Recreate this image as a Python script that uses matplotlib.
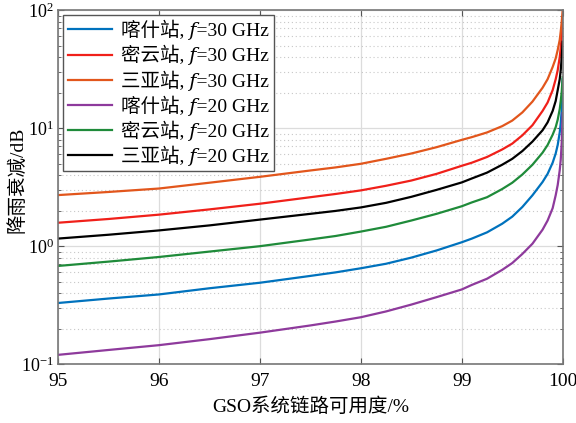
"""
降雨衰减随 GSO 系统链路可用度的变化 (喀什 / 密云 / 三亚, 20 GHz 与 30 GHz)
"""

import matplotlib
matplotlib.use("Agg")
import matplotlib.pyplot as plt
from matplotlib.ticker import LogLocator, NullFormatter

# ─────────────────────────────────────────────
# DATA  (可用度 %, 降雨衰减 dB)
# ─────────────────────────────────────────────
availability = [95, 95.5, 96, 96.5, 97, 97.5, 97.75, 98, 98.25, 98.5, 98.75,
                99, 99.1, 99.25, 99.4, 99.5, 99.6, 99.7, 99.8, 99.85, 99.9,
                99.93, 99.95, 99.97, 99.98, 99.99, 99.999]

kashi_30 = [0.33, 0.36, 0.39, 0.44, 0.49, 0.56, 0.60, 0.65, 0.71, 0.80, 0.92,
            1.08, 1.16, 1.31, 1.55, 1.78, 2.15, 2.7, 3.5, 4.1, 5.1,
            6.1, 7.2, 9.2, 11.0, 14.5, 26.0]
miyun_30 = [1.58, 1.70, 1.85, 2.05, 2.29, 2.60, 2.77, 2.97, 3.25, 3.6, 4.1,
            4.8, 5.1, 5.7, 6.6, 7.4, 8.7, 10.6, 14.0, 16.5, 21.0,
            26.0, 31.0, 40.0, 48.0, 60.0, 80.0]
sanya_30 = [2.71, 2.88, 3.08, 3.45, 3.87, 4.38, 4.65, 4.99, 5.5, 6.1, 6.9,
            7.96, 8.4, 9.2, 10.4, 11.6, 13.6, 16.8, 22.0, 26.0, 33.0,
            39.0, 46.0, 56.0, 66.0, 80.0, 100.0]
kashi_20 = [0.120, 0.132, 0.145, 0.163, 0.185, 0.213, 0.23, 0.25, 0.28, 0.32, 0.37,
            0.43, 0.47, 0.53, 0.63, 0.72, 0.86, 1.05, 1.38, 1.65, 2.1,
            2.7, 3.3, 4.4, 5.4, 7.6, 13.4]
miyun_20 = [0.68, 0.74, 0.81, 0.90, 1.00, 1.14, 1.22, 1.33, 1.46, 1.65, 1.88,
            2.18, 2.35, 2.6, 3.05, 3.45, 4.05, 4.9, 6.2, 7.2, 8.8,
            10.2, 11.8, 14.5, 17.0, 20.5, 27.0]
sanya_20 = [1.16, 1.25, 1.36, 1.50, 1.68, 1.88, 1.99, 2.13, 2.33, 2.62, 3.0,
            3.47, 3.75, 4.2, 4.9, 5.5, 6.4, 7.7, 9.6, 11.2, 14.0,
            17.0, 21.0, 26.0, 31.0, 40.0, 54.0]

series = [
    (kashi_30, "#0072BD", "喀什站, \U0001D453=30 GHz"),
    (miyun_30, "#F0201A", "密云站, \U0001D453=30 GHz"),
    (sanya_30, "#E2561C", "三亚站, \U0001D453=30 GHz"),
    (kashi_20, "#8E3A9C", "喀什站, \U0001D453=20 GHz"),
    (miyun_20, "#1F8B3A", "密云站, \U0001D453=20 GHz"),
    (sanya_20, "#000000", "三亚站, \U0001D453=20 GHz"),
]

# ─────────────────────────────────────────────
# STYLE
# ─────────────────────────────────────────────
plt.rcParams["font.family"] = ["Liberation Serif", "Noto Sans CJK SC", "DejaVu Serif"]
plt.rcParams["mathtext.fontset"] = "stix"
plt.rcParams["axes.unicode_minus"] = False

fig = plt.figure(figsize=(5.76, 4.23), dpi=100)
ax = fig.add_axes([0.1007, 0.139, 0.8763, 0.837])

for values, color, label in series:
    ax.plot(availability, values, color=color, lw=1.6, label=label)

ax.set_yscale("log")
ax.set_xlim(95, 100)
ax.set_ylim(0.1, 100)
ax.set_xticks([95, 96, 97, 98, 99, 100])
ax.yaxis.set_major_locator(LogLocator(base=10, numticks=10))
ax.yaxis.set_minor_locator(LogLocator(base=10, subs=range(2, 10), numticks=10))
ax.yaxis.set_minor_formatter(NullFormatter())

# grid: solid major lines, dotted minor lines on y
ax.grid(which="major", color="#dcdcdc", lw=0.9, ls="-")
ax.grid(which="minor", axis="y", color="#c8c8c8", lw=0.8, ls=(0, (1, 2.5)))
ax.set_axisbelow(True)

ax.tick_params(which="both", direction="in", top=True, right=True,
               colors="#555555", labelcolor="black", labelsize=13)
ax.tick_params(which="major", length=4)
ax.tick_params(which="minor", length=2.5)
ax.tick_params(axis="x", pad=6, labelsize=14)
ax.tick_params(axis="y", pad=3)
for sp in ax.spines.values():
    sp.set_color("#777777")
    sp.set_linewidth(1.2)

ax.set_xlabel("GSO系统链路可用度/%", fontsize=14, labelpad=6)
ax.set_ylabel("降雨衰减/dB", fontsize=14)
ax.yaxis.set_label_coords(-0.062, 0.52)

leg = ax.legend(loc="upper left", fontsize=14, frameon=True, fancybox=False,
                edgecolor="#555555", framealpha=1, borderaxespad=0.25,
                handlelength=2.3, labelspacing=0.25, borderpad=0.25,
                handletextpad=0.45)
leg.get_frame().set_linewidth(1.0)

fig.savefig("out.png", dpi=100)
